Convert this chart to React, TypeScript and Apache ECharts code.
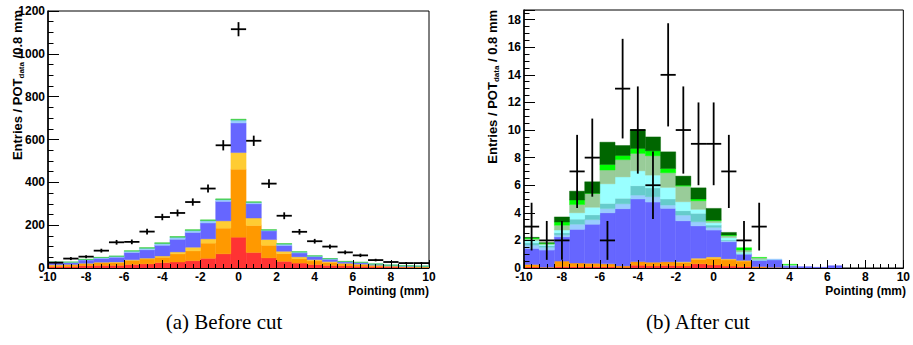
import React, { useEffect, useRef } from 'react';
import * as echarts from 'echarts';

const FONT = 'Liberation Sans, Arial, Helvetica, sans-serif';
const SERIF = 'Liberation Serif, DejaVu Serif, serif';

// bin centers (0.8 mm bins from -10 to 10)
const centers = [-9.6, -8.8, -8.0, -7.2, -6.4, -5.6, -4.8, -4.0, -3.2, -2.4, -1.6, -0.8, 0, 0.8, 1.6, 2.4, 3.2, 4.0, 4.8, 5.6, 6.4, 7.2, 8.0, 8.8, 9.6];
const BIN_W = 0.8;
const xTicks = [-10, 10, 2];

// ---------- (a) Before cut ----------
const beforeRed = [6, 7, 11, 12, 12, 16, 19, 25, 28, 34, 45, 66, 144, 72, 47, 31, 23, 16, 12, 10, 8, 6, 5, 4, 3];
const beforeOrange = [7, 7, 9, 13, 13, 19, 23, 25, 38, 46, 71, 120, 317, 127, 59, 36, 21, 17, 14, 9, 8, 5, 3, 2, 2];
const beforeYellow = [2, 2, 2, 2, 3, 3, 4, 6, 9, 17, 20, 34, 78, 34, 27, 11, 8, 6, 4, 3, 2, 2, 1, 1, 1];
const beforeBlue = [10, 9, 15, 18, 22, 34, 39, 50, 59, 69, 74, 91, 138, 67, 40, 27, 18, 14, 11, 6, 6, 4, 3, 2, 2];
const beforeLightBlue = [2, 2, 2.5, 3, 4, 5, 6, 7, 8, 8, 9, 7, 11, 5, 3, 5, 4, 2.5, 2, 2, 2, 1, 1, 1, 0.5];
const beforeTeal = [0.5, 0.5, 0.5, 1, 1, 2, 2, 2, 2, 2, 3, 2, 4, 2, 1, 2, 1, 0.5, 0.5, 0.5, 0.5, 0.5, 0.5, 0.5, 0.25];
const beforeGreen = [0.5, 0.5, 1, 1, 1, 2, 2, 3, 3, 3, 3, 3, 3, 2, 2, 2, 1, 1, 0.5, 0.5, 0.5, 0.5, 0.5, 0.5, 0.25];
const beforeData = [25, 44, 53, 81, 120, 122, 170, 238, 257, 308, 371, 573, 1115, 594, 394, 244, 169, 125, 100, 73, 59, 37, 28, 23, 23];
const beforeErr = [5, 7, 7, 9, 11, 11, 13, 15, 16, 17, 19, 24, 33, 24, 20, 16, 13, 11, 10, 9, 8, 6, 5, 5, 5];
const beforeY = [0, 1200, 200];

// ---------- (b) After cut ----------
const afterRed = [0.08, 0.02, 0.10, 0.10, 0.10, 0.10, 0.05, 0.20, 0.15, 0.18, 0.15, 0.30, 0.22, 0.14, 0.10, 0.03, 0, 0, 0, 0, 0, 0, 0, 0, 0];
const afterOrange = [0.17, 0.04, 0.40, 0.26, 0.24, 0.20, 0.10, 0.26, 0.27, 0.27, 0.25, 0.33, 0.48, 0.44, 0.40, 0.07, 0.05, 0.02, 0, 0, 0, 0, 0, 0, 0];
const afterYellow = [0, 0, 0, 0, 0, 0, 0, 0, 0, 0, 0.05, 0.08, 0.10, 0.08, 0.05, 0, 0, 0, 0, 0, 0, 0, 0, 0, 0];
const afterBlue = [1.17, 1.24, 1.75, 2.44, 2.83, 3.70, 4.15, 4.54, 4.36, 3.87, 2.97, 2.34, 1.95, 1.24, 0.45, 0.45, 0.53, 0.13, 0.10, 0.05, 0.17, 0, 0, 0, 0];
const afterLightBlue = [0.24, 0.20, 0.15, 0.37, 0.33, 0.30, 0.35, 0.28, 0.38, 0.24, 0.41, 0.30, 0.19, 0.07, 0.03, 0.03, 0.07, 0.02, 0, 0, 0, 0, 0, 0, 0];
const afterTeal = [0.17, 0.12, 0.15, 0.37, 0.35, 0.38, 0.40, 0.68, 0.64, 0.44, 0.32, 0.61, 0.17, 0.06, 0.03, 0.02, 0, 0.01, 0, 0, 0, 0, 0, 0, 0];
const afterCyan = [0.15, 0.08, 0.20, 0.46, 0.55, 1.42, 1.55, 1.08, 0.93, 0.84, 0.65, 0.29, 0.17, 0.17, 0.09, 0.02, 0, 0.01, 0, 0, 0, 0, 0, 0, 0];
const afterSage = [0.14, 0.06, 0.35, 0.60, 1.00, 1.00, 1.25, 1.26, 1.40, 1.06, 1.13, 0.62, 0.14, 0.14, 0.15, 0.13, 0, 0.06, 0, 0, 0, 0, 0, 0, 0];
const afterGreen = [0.06, 0.04, 0.23, 0.33, 0.02, 0.40, 0.30, 0.36, 0.36, 0.31, 0.07, 0.13, 0.05, 0.05, 0.17, 0.02, 0, 0.02, 0, 0, 0, 0, 0, 0, 0];
const afterDarkGreen = [0.04, 0.03, 0.37, 0.64, 0.83, 1.62, 0.73, 1.37, 1.01, 1.21, 0.66, 0.81, 0.85, 0.19, 0, 0, 0, 0, 0, 0, 0, 0, 0, 0, 0];
const afterData = [3, 2, 2, 7, 8, 2, 13, 10, 6, 14, 10, 9, 9, 7, 2, 3, null, null, null, null, null, null, null, null, null];
const afterErr = [1.73, 1.41, 1.41, 2.65, 2.83, 1.41, 3.61, 3.16, 2.45, 3.74, 3.16, 3.0, 3.0, 2.65, 1.41, 1.73, null, null, null, null, null, null, null, null, null];
const afterY = [0, 18.7, 2];

type Layer = { name: string; color: string; values: number[] };

function histSeries(layers: Layer[], idx: number) {
  const base = centers.map(() => 0);
  return layers.map((layer) => {
    const data = centers.map((c, i) => {
      const y0 = base[i];
      const y1 = y0 + layer.values[i];
      base[i] = y1;
      return [c - BIN_W / 2, c + BIN_W / 2, y0, y1];
    });
    return {
      type: 'custom',
      name: layer.name,
      xAxisIndex: idx,
      yAxisIndex: idx,
      silent: true,
      z: 2,
      encode: { x: [0, 1], y: [2, 3] },
      data,
      renderItem: (_p: any, api: any) => {
        const y0 = api.value(2);
        const y1 = api.value(3);
        if (!(y1 > y0)) return null;
        const p0 = api.coord([api.value(0), y0]);
        const p1 = api.coord([api.value(1), y1]);
        return {
          type: 'rect',
          shape: { x: p0[0], y: p1[1], width: p1[0] - p0[0], height: p0[1] - p1[1] },
          style: { fill: layer.color, stroke: layer.color, lineWidth: 0.4 },
        };
      },
    };
  });
}

function dataSeries(vals: (number | null)[], errs: (number | null)[], idx: number) {
  const data: number[][] = [];
  centers.forEach((c, i) => {
    const v = vals[i];
    const e = errs[i];
    if (v != null && e != null) data.push([c, v, e]);
  });
  return {
    type: 'custom',
    name: 'data',
    xAxisIndex: idx,
    yAxisIndex: idx,
    silent: true,
    z: 5,
    encode: { x: 0, y: 1 },
    data,
    renderItem: (_p: any, api: any) => {
      const x = api.value(0);
      const y = api.value(1);
      const e = api.value(2);
      const a = api.coord([x - BIN_W / 2, y]);
      const b = api.coord([x + BIN_W / 2, y]);
      const c = api.coord([x, y - e]);
      const d = api.coord([x, y + e]);
      const st = { stroke: '#000', lineWidth: 1.8 };
      return {
        type: 'group',
        children: [
          { type: 'line', shape: { x1: a[0], y1: a[1], x2: b[0], y2: b[1] }, style: st },
          { type: 'line', shape: { x1: c[0], y1: c[1], x2: d[0], y2: d[1] }, style: st },
        ],
      };
    },
  };
}

function xAxis(gridIndex: number) {
  return {
    type: 'value',
    gridIndex,
    min: xTicks[0],
    max: xTicks[1],
    interval: xTicks[2],
    z: 10,
    axisLine: { show: true, onZero: false, lineStyle: { color: '#000', width: 1 } },
    axisTick: { show: true, inside: true, length: 8, lineStyle: { color: '#000', width: 1 } },
    minorTick: { show: true, splitNumber: 5, length: 4, lineStyle: { color: '#000', width: 1 } },
    axisLabel: { color: '#000', fontWeight: 'bold', fontSize: 12, fontFamily: FONT, margin: 3 },
    splitLine: { show: false },
  };
}

function yAxis(gridIndex: number, range: number[], majorLen: number) {
  return {
    type: 'value',
    gridIndex,
    min: range[0],
    max: range[1],
    interval: range[2],
    z: 10,
    axisLine: { show: true, onZero: false, lineStyle: { color: '#000', width: 1.5 } },
    axisTick: { show: true, inside: true, length: majorLen, lineStyle: { color: '#000', width: 1 } },
    minorTick: { show: true, splitNumber: 4, length: majorLen / 2, lineStyle: { color: '#000', width: 1 } },
    axisLabel: {
      color: '#000', fontWeight: 'bold', fontSize: 12, fontFamily: FONT, margin: 3,
      formatter: (v: number) => (Math.abs(v / range[2] - Math.round(v / range[2])) < 1e-6 ? String(v) : ''),
    },
    splitLine: { show: false },
  };
}

function yTitle(x: number, y: number, tail: string) {
  return {
    type: 'text',
    x,
    y,
    rotation: Math.PI / 2,
    style: {
      text: '{a|Entries / POT}{s|data}{a|' + tail + '}',
      align: 'right',
      verticalAlign: 'middle',
      fill: '#000',
      rich: {
        a: { fontSize: 13, fontWeight: 'bold', fontFamily: FONT, fill: '#000', lineHeight: 16 },
        s: { fontSize: 8, fontWeight: 'bold', fontFamily: FONT, fill: '#000', lineHeight: 8, verticalAlign: 'bottom' },
      },
    },
  };
}

export default function App() {
  const ref = useRef<HTMLDivElement>(null);
  useEffect(() => {
    if (!ref.current) return;
    const chart = echarts.init(ref.current, undefined, { renderer: 'svg' });
    const beforeLayers: Layer[] = [
      { name: 'red', color: '#ff3333', values: beforeRed },
      { name: 'orange', color: '#ff9900', values: beforeOrange },
      { name: 'yellow', color: '#ffcc33', values: beforeYellow },
      { name: 'blue', color: '#6666ff', values: beforeBlue },
      { name: 'lightblue', color: '#99ccff', values: beforeLightBlue },
      { name: 'teal', color: '#66cccc', values: beforeTeal },
      { name: 'green', color: '#33cc33', values: beforeGreen },
    ];
    const afterLayers: Layer[] = [
      { name: 'red', color: '#ff3333', values: afterRed },
      { name: 'orange', color: '#ff9900', values: afterOrange },
      { name: 'yellow', color: '#ffcc33', values: afterYellow },
      { name: 'blue', color: '#6666ff', values: afterBlue },
      { name: 'lightblue', color: '#99ccff', values: afterLightBlue },
      { name: 'teal', color: '#66cccc', values: afterTeal },
      { name: 'cyan', color: '#99ffff', values: afterCyan },
      { name: 'sage', color: '#99cc99', values: afterSage },
      { name: 'green', color: '#00ff00', values: afterGreen },
      { name: 'darkgreen', color: '#006600', values: afterDarkGreen },
    ];
    chart.setOption({
      animation: false,
      backgroundColor: '#fff',
      grid: [
        { left: 48, top: 11, width: 381, height: 257, show: true, borderColor: '#000', borderWidth: 1, containLabel: false },
        { left: 524, top: 10, width: 382, height: 258, show: true, borderColor: '#000', borderWidth: 1, containLabel: false },
      ],
      xAxis: [xAxis(0), xAxis(1)],
      yAxis: [yAxis(0, beforeY, 11), yAxis(1, afterY, 11)],
      series: [
        ...histSeries(beforeLayers, 0),
        dataSeries(beforeData, beforeErr, 0),
        ...histSeries(afterLayers, 1),
        dataSeries(afterData, afterErr, 1),
      ],
      graphic: [
        yTitle(17, 10, ' /0.8 mm'),
        yTitle(492, 10, ' / 0.8 mm'),
        { type: 'text', x: 429, y: 291, style: { text: 'Pointing (mm)', align: 'right', verticalAlign: 'middle', fontSize: 12, fontWeight: 'bold', fontFamily: FONT, fill: '#000' } },
        { type: 'text', x: 906, y: 291, style: { text: 'Pointing (mm)', align: 'right', verticalAlign: 'middle', fontSize: 12, fontWeight: 'bold', fontFamily: FONT, fill: '#000' } },
        { type: 'text', x: 224, y: 322, style: { text: '(a) Before cut', align: 'center', verticalAlign: 'middle', fontSize: 21, fontFamily: SERIF, fill: '#000' } },
        { type: 'text', x: 698, y: 322, style: { text: '(b) After cut', align: 'center', verticalAlign: 'middle', fontSize: 21, fontFamily: SERIF, fill: '#000' } },
      ],
    });
    return () => chart.dispose();
  }, []);
  return <div ref={ref} style={{ position: 'absolute', left: 0, top: 0, width: 913, height: 345, background: '#fff' }} />;
}
